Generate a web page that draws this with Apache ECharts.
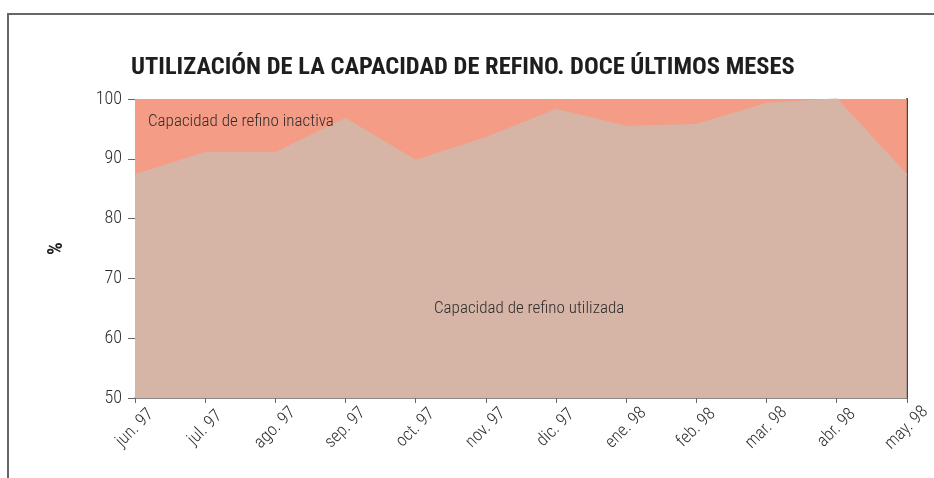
<!DOCTYPE html>
<html>
<head>
<meta charset="utf-8">
<script src="https://cdn.jsdelivr.net/npm/echarts@6/dist/echarts.min.js"></script>
<style>
  html, body { margin: 0; padding: 0; background: #ffffff; }
  #chart { width: 934px; height: 478px; }
</style>
</head>
<body>
<div id="chart"></div>
<script>
// Monthly refinery capacity utilisation (%), June 1997 – May 1998
const months = ['jun. 97', 'jul. 97', 'ago. 97', 'sep. 97', 'oct. 97', 'nov. 97',
                'dic. 97', 'ene. 98', 'feb. 98', 'mar. 98', 'abr. 98', 'may. 98'];
const utilizada = [87.3, 91.0, 91.0, 96.7, 89.7, 93.5, 98.2, 95.4, 95.7, 99.2, 100.0, 87.3];
const yTicks = [50, 60, 70, 80, 90, 100];

// Idle capacity is the remainder up to 100 %
const inactiva = utilizada.map(v => +(100 - v).toFixed(1));

const FONT = '"Roboto Condensed", "Roboto", sans-serif';
const TEXT = '#2f2c2c';
const USED = '#d6b5a6';
const IDLE = '#f49c85';

const chart = echarts.init(document.getElementById('chart'), null, { renderer: 'canvas' });

chart.setOption({
  animation: false,
  backgroundColor: '#ffffff',
  title: {
    text: 'UTILIZACIÓN DE LA CAPACIDAD DE REFINO. DOCE ÚLTIMOS MESES',
    left: 126,
    top: 50,
    textStyle: { fontFamily: FONT, fontWeight: 'bold', fontSize: 24.5, color: '#1e1e1e' }
  },
  grid: { left: 135, right: 24, top: 99, bottom: 80 },
  xAxis: {
    type: 'category',
    data: months,
    boundaryGap: false,
    axisLine: { lineStyle: { color: '#6b6464', width: 1.5 } },
    axisTick: { show: true, length: 5, lineStyle: { color: '#6b6464' } },
    axisLabel: {
      rotate: 45,
      align: 'center',
      verticalAlign: 'middle',
      margin: 30,
      fontFamily: FONT,
      fontWeight: 300,
      fontSize: 17.5,
      color: TEXT,
      interval: 0
    },
    splitLine: { show: false }
  },
  yAxis: [
    {
      type: 'value',
      min: yTicks[0],
      max: yTicks[yTicks.length - 1],
      interval: 10,
      name: '%',
      nameLocation: 'middle',
      nameRotate: 90,
      nameGap: 68,
      nameTextStyle: { fontFamily: FONT, fontWeight: 'bold', fontSize: 20, color: '#222' },
      axisLine: { show: false },
      axisTick: { show: true, length: 7, lineStyle: { color: '#6b6464' } },
      axisLabel: { margin: 13, fontFamily: FONT, fontWeight: 300, fontSize: 18, color: TEXT },
      splitLine: { show: false }
    },
    {
      type: 'value',
      position: 'right',
      min: yTicks[0],
      max: yTicks[yTicks.length - 1],
      interval: 10,
      axisLine: { show: true, lineStyle: { color: '#4a4242', width: 2 } },
      axisTick: { show: false },
      axisLabel: { show: false },
      splitLine: { show: false }
    }
  ],
  series: [
    {
      name: 'Capacidad de refino utilizada',
      type: 'line',
      stack: 'cap',
      data: utilizada,
      symbol: 'none',
      // an edge stroke in the fill colour hides the seam with the idle area
      lineStyle: { width: 1.5, color: USED },
      areaStyle: { color: USED, opacity: 1 },
      z: 3
    },
    {
      name: 'Capacidad de refino inactiva',
      type: 'line',
      stack: 'cap',
      data: inactiva,
      symbol: 'none',
      lineStyle: { width: 0 },
      areaStyle: { color: IDLE, opacity: 1 },
      z: 2
    }
  ],
  graphic: [
    // frame around the figure
    { type: 'line', shape: { x1: 7, y1: 14, x2: 934, y2: 14 }, style: { stroke: '#666', lineWidth: 2 }, z: 10 },
    { type: 'line', shape: { x1: 8, y1: 13, x2: 8, y2: 478 }, style: { stroke: '#666', lineWidth: 2 }, z: 10 },
    // area annotations
    { type: 'text', left: 148, top: 113, z: 10,
      style: { text: 'Capacidad de refino inactiva', fontFamily: FONT, fontWeight: 300, fontSize: 17, fill: TEXT } },
    { type: 'text', left: 434, top: 300, z: 10,
      style: { text: 'Capacidad de refino utilizada', fontFamily: FONT, fontWeight: 300, fontSize: 17, fill: TEXT } }
  ]
});
</script>
</body>
</html>
